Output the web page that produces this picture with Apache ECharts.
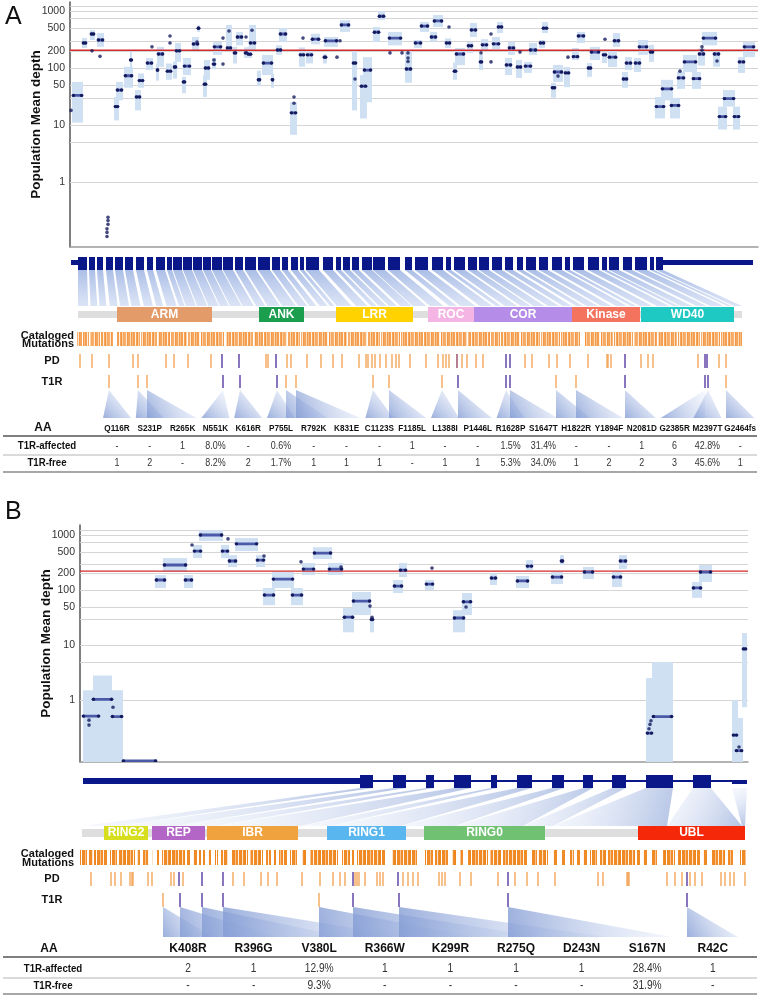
<!DOCTYPE html>
<html>
<head>
<meta charset="utf-8">
<script src="https://cdn.jsdelivr.net/npm/echarts@6/dist/echarts.min.js"></script>
<style>
  html, body { margin: 0; padding: 0; background: #fff; }
  #chart { width: 762px; height: 995px; }
</style>
</head>
<body>
<div id="chart"></div>
<script>
const FONT = '"Liberation Sans", Arial, Helvetica, sans-serif';
const lg = v => Math.log10(v);

// ---------- shared depth axis ----------
const GRID_VALUES = [1250, 1000, 750, 500, 300, 200, 100, 50, 30, 10, 5, 1];
const GRID_LABELED = [1000, 500, 200, 100, 50, 10, 1];

// ---------- panel A (LRRK2) ----------
// depth bins: [start, end, band high, band low, mean]
const A_BINS = [
  [2,13,57,11,33],[12,17,335,225,275],[20,25,460,310,395],[27,34,410,235,310],[44,49,31,12,21],
  [46,53,57,27,41],[54,63,105,45,73],[60,62,200,80,138],[65,71,41,18,31],[68,74,80,45,60],
  [76,83,150,92,122],[86,89,120,60,92],[87,94,235,105,176],[96,102,120,62,88],[103,107,130,65,104],
  [105,111,275,128,200],[112,116,70,36,57],[113,121,150,75,108],[122,129,350,207,264],[127,130,560,430,500],
  [133,137,75,31,52],[134,140,138,62,100],[142,146,150,95,117],[143,152,285,170,235],[156,162,570,207,225],
  [163,167,235,120,184],[166,173,430,250,350],[174,178,230,150,184],[177,182,235,150,175],[179,186,570,207,275],
  [187,191,90,48,62],[192,203,170,75,122],[201,204,80,45,62],[206,212,250,170,207],[209,217,500,285,395],
  [220,227,25,6.7,16.3],[229,235,230,105,170],[236,243,200,120,170],[241,250,400,260,320],[253,257,175,120,155],
  [254,268,350,235,300],[270,280,690,430,570],[282,287,207,18,122],[290,297,75,13,48],[293,302,155,25,92],
  [303,310,525,285,425],[308,315,1000,700,810],[318,332,430,250,335],[335,342,207,55,96],[344,352,310,225,275],
  [350,359,640,430,545],[360,367,430,290,350],[363,373,850,525,670],[375,381,330,225,275],[383,387,125,62,88],
  [385,395,225,112,176],[397,403,285,184,245],[400,407,615,350,465],[409,413,170,92,128],[411,418,320,207,255],
  [422,430,350,215,265],[427,433,640,410,525],[435,442,150,75,113],[438,445,285,170,225],[446,452,138,67,104],
  [454,462,128,82,108],[459,467,275,170,207],[469,475,310,225,275],[472,478,640,410,500],[481,486,55,30,45],
  [483,493,113,57,85],[494,500,104,46,82],[502,509,225,138,158],[507,515,430,275,365],[517,522,122,70,100],
  [520,530,235,138,190],[532,537,190,122,170],[538,547,207,104,155],[543,550,410,235,300],[552,558,85,45,64],
  [555,562,155,92,122],[564,571,150,85,122],[568,578,310,170,235],[579,584,255,128,190],[585,595,31,13,21],
  [591,603,62,27,43],[600,610,30,13,22],[607,615,85,43,67],[613,627,170,85,128],[622,631,85,43,65],
  [628,635,220,110,176],[632,647,430,250,335],[643,650,190,105,176],[648,657,21,8.3,14],[653,665,41,21,29],
  [663,670,21,8.3,14],[668,675,155,82,128],[673,685,285,155,235]
];
const A_DOTS = [
  [1,18],[22,200],[30,160],[38,0.24],[38,0.21],[38,0.18],[37,0.15],[37,0.13],[37,0.11],[82,235],
  [100,365],[100,275],[127,285],[144,138],[153,117],[153,335],[159,445],[176,350],[182,460],[224,24],
  [224,31],[233,335],[267,155],[270,300],[285,64],[320,184],[332,184],[338,184],[338,150],[338,130],
  [379,525],[411,184],[421,395],[421,128],[450,190],[488,72],[498,155],[535,320],[610,88],[632,235],
  [632,205],[647,133]
];
const A_RED = 205;
const A_EXONS = [
  [8,17],[19,25],[27,33],[36,43],[45,53],[55,63],[66,74],[77,83],[86,95],[97,102],[103,112],[113,122],
  [123,132],[133,141],[142,152],[153,163],[165,173],[175,186],[188,200],[202,210],[212,218],[221,228],
  [230,234],[236,249],[253,263],[266,271],[273,280],[282,289],[292,302],[303,315],[318,330],[335,342],
  [345,358],[362,373],[376,381],[384,395],[398,407],[409,419],[422,432],[435,443],[447,453],[456,466],
  [469,478],[482,492],[495,500],[503,514],[518,529],[532,537],[539,549],[553,562],[565,577],[580,584],[586,593]
];
const A_UTR = [[1,8],[593,683]];
const A_PROT_RANGE = [8, 672];
const A_DOMAINS = [
  ['ARM',47,142,'#e29b69'],['ANK',189,234,'#1b9e4e'],['LRR',266,343,'#ffd200'],['ROC',358,404,'#f5b5e4'],
  ['COR',404,502,'#b58ce8'],['Kinase',502,570,'#f4735f'],['WD40',571,664,'#1fc9c3']
];
const A_CAT = [
  [7,12],[13,19],[20,30],[31,43],[47,70],[71,87],[88,100],[101,117],[118,130],[131,154],[156,183],[184,193],
  [194,217],[218,230],[231,258],[259,277],[278,297],[298,310],[311,330],[331,353],[354,370],[371,397],[398,420],
  [421,430],[431,450],[451,470],[471,490],[491,510],[515,530],[531,543],[544,563],[564,587],[588,607],[608,630],
  [631,650],[651,672]
];
// [position, kind] kind 0 orange, 1 purple, 2 both
const A_PD = [
  [10,0],[22,0],[39,0],[63,0],[68,0],[96,0],[104,0],[118,0],[141,0],[152,1],[169,1],[196,0],[198,0],[206,1],
  [217,0],[221,0],[237,0],[251,0],[263,0],[272,0],[289,0],[296,0],[298,0],[302,0],[305,0],[310,0],[316,0],
  [322,0],[326,0],[329,0],[340,0],[356,0],[368,0],[373,0],[376,0],[379,0],[387,2],[392,0],[397,0],[406,0],
  [413,0],[436,1],[440,1],[455,0],[462,0],[479,0],[487,0],[500,0],[518,0],[537,0],[538,0],[541,0],[555,1],
  [571,0],[578,0],[583,0],[628,0],[635,1],[637,1],[649,0],[656,0]
];
const A_T1R = [
  [39,0],[68,0],[77,0],[153,1],[170,1],[207,1],[216,0],[226,0],[303,0],[319,0],[372,0],[388,1],[436,1],
  [440,1],[486,0],[506,0],[555,1],[635,1],[638,1],[656,0]
];
const A_AA = ['Q116R','S231P','R265K','N551K','K616R','P755L','R792K','K831E','C1123S','F1185L',
  'L1388I','P1446L','R1628P','S1647T','H1822R','Y1894F','N2081D','G2385R','M2397T','G2464fs'];
const A_AFFECTED = ['-','-','1','8.0%','-','0.6%','-','-','-','1','-','-','1.5%','31.4%','-','-','1','6','42.8%','-'];
const A_FREE = ['1','2','-','8.2%','2','1.7%','1','1','1','-','1','1','5.3%','34.0%','1','2','2','3','45.6%','1'];

// ---------- panel B (PRKN) ----------
const B_BINS = [
  [3,43,1.5,0.07,null],[13,32,2.8,0.07,null],[2,20,null,null,0.51],[12,33,null,null,1.03],[31,43,null,null,0.5],
  [42,77,null,null,0.078],[75,86,187,109,152],[83,107,380,213,285],[104,113,187,109,152],[113,122,660,380,510],
  [119,143,1230,780,1000],[141,149,660,380,510],[148,157,430,262,337],[155,178,880,510,690],[176,185,430,262,350],
  [183,195,109,53,81],[192,214,213,109,158],[211,223,109,53,81],[222,235,310,187,240],[233,252,600,365,470],
  [248,263,310,187,240],[263,274,47,17,32],[272,291,92,35,63],[290,294,30,17,29],[313,323,152,88,118],
  [319,327,310,172,230],[345,354,152,100,128],[373,385,43,17,31],[382,392,88,35,61],[410,417,204,123,165],
  [436,449,180,109,146],[446,453,350,230,272],[471,483,213,128,172],[480,484,430,285,337],[503,514,262,158,212],
  [532,542,213,113,172],[539,547,430,240,337],[566,573,2.5,0.07,0.25],[572,593,4.9,0.07,0.5],[612,622,140,72,109],
  [619,632,285,140,212],[652,658,1,0.07,0.23],[655,663,0.47,0.07,0.12],[662,667,16.5,0.74,8.5]
];
const B_DOTS = [
  [9,0.43],[9,0.35],[33,0.74],[112,660],[148,850],[184,415],[221,325],[261,262],[290,51],[292,32],
  [352,250],[386,49],[569,0.3],[570,0.36],[571,0.42],[659,0.14]
];
const B_RED = 220;
const B_UTR = [[3,280]];
const B_EXONS = [[280,293],[313,326],[346,354],[374,391],[411,417],[437,452],[472,484],[503,513],[532,546],[566,593],[613,631]];
const B_LAST = [[652,667]];
const B_PROT = [3,38,95,135,220,250,320,375,443,473,587,662,665,665];
const B_DOMAINS = [
  ['RING2',24,68,'#d6de1e'],['REP',72,125,'#b366c6'],['IBR',127,218,'#f0a23e'],
  ['RING1',247,326,'#5ab6ee'],['RING0',344,465,'#70c172'],['UBL',558,665,'#f5280a']
];
const B_CAT = [
  [0,7],[9,13],[14,27],[30,37],[39,55],[57,60],[63,69],[72,73],[77,79],[82,105],[107,110],[113,117],[119,121],
  [123,125],[128,131],[135,138],[141,148],[152,168],[170,183],[186,191],[194,197],[199,207],[210,217],[222,227],
  [230,258],[262,270],[272,274],[277,305],[312,337],[345,353],[355,368],[372,377],[380,383],[388,408],[410,422],
  [423,447],[452,457],[458,468],[473,477],[482,485],[490,494],[497,500],[503,507],[510,517],[520,527],[528,555],
  [557,560],[563,567],[571,577],[583,595],[598,620],[623,627],[632,645],[648,653],[660,666]
];
const B_PD = [
  [11,0],[31,0],[35,0],[41,0],[50,0],[52,0],[53,0],[68,0],[72,0],[91,0],[94,0],[99,1],[103,0],[122,1],[143,1],
  [153,0],[164,0],[181,0],[188,0],[197,0],[222,0],[240,0],[253,0],[260,0],[265,0],[273,1],[275,0],[277,0],[279,0],
  [285,0],[297,0],[300,0],[303,0],[318,1],[323,0],[328,0],[333,0],[338,0],[359,0],[362,0],[365,0],[380,0],[391,0],
  [418,0],[428,1],[435,0],[447,0],[458,0],[475,0],[518,0],[523,0],[547,0],[548,0],[549,0],[587,0],[595,0],[602,0],
  [607,1],[610,0],[615,0],[622,0],[641,0],[645,0],[650,0],[654,0],[665,0]
];
const B_T1R = [[83,0],[100,1],[122,1],[143,1],[239,0],[273,1],[319,1],[428,1],[607,1]];
const B_AA = ['K408R','R396G','V380L','R366W','K299R','R275Q','D243N','S167N','R42C'];
const B_AFFECTED = ['2','1','12.9%','1','1','1','1','28.4%','1'];
const B_FREE = ['-','-','9.3%','-','-','-','-','31.9%','-'];

// ---------- layout ----------
const PA = { left: 70, top: 2, w: 688, h: 245, lowTop: 250, lowH: 225, yMin: 0.072, yMax: 1440 };
const PB = { left: 80, top: 525, w: 668, h: 237, lowTop: 765, lowH: 230, yMin: 0.0746, yMax: 1520 };
const RA = { exon: [7, 20], utr: [10, 15], fan: [20, 56], dom: [57, 72], bar: [61, 68], cat: [82, 96],
  pd: [104, 118], t1r: [125, 138], tri: [140, 168], aa: 178, l1: 186, aff: 196, l2: 205, free: 213, l3: 222,
  colX0: 47, colStep: 32.8, triHW: 14, rowX: -23, lineX: [-67, 687], labX: -18, catX: 4 };
const RB = { exon: [10, 23], utr: [13, 19], fan: [23, 61], dom: [61, 75], bar: [64, 72], cat: [85, 100],
  pd: [107, 121], t1r: [128, 142], tri: [142, 172], aa: 184, l1: 192, aff: 204, l2: 213, free: 221, l3: 229,
  colX0: 108, colStep: 65.6, triHW: 25, rowX: -27, lineX: [-77, 677], labX: -28, catX: -6 };

const TICK_COLORS = ['#f2a04e', '#4a2c9c', '#8d3a52'];
const EXON_COLOR = '#0a1789';

// striped fill so the mutation bands read as many thin lines
function stripes(spec) {
  const c = document.createElement('canvas');
  c.width = spec.reduce((a, s) => a + s[0], 0);
  c.height = 4;
  const ctx = c.getContext('2d');
  let x = 0;
  spec.forEach(s => { ctx.fillStyle = s[1]; ctx.fillRect(x, 0, s[0], 4); x += s[0]; });
  return { image: c, repeat: 'repeat' };
}
const CAT_FILL_A = stripes([[2,'#f6a65c'],[1,'#fcdcbb'],[1,'#f39a4a'],[1,'#f8bb80'],[2,'#f49e52'],[1,'#fff1e2'],
  [1,'#f5a357'],[1,'#f29444'],[1,'#fbd1a6'],[2,'#f6aa64'],[1,'#f7b273'],[1,'#fde8d2'],[1,'#f39a4a']]);
const CAT_FILL_B = stripes([[2,'#ef8a24'],[1,'#fbe2c8'],[1,'#f1902e'],[2,'#ee8620'],[1,'#ffffff'],[3,'#f08a24'],
  [1,'#f8c390'],[2,'#f18c28'],[1,'#fff6ee'],[1,'#ef8a24']]);

// ---------- helpers ----------
function mk(ax, list, renderItem, z, clip) {
  return { type: 'custom', xAxisIndex: ax, yAxisIndex: ax, data: list.map((d, i) => [i, 0]),
    renderItem, z: z || 2, silent: true, clip: !!clip, animation: false };
}
function rectSeries(ax, list, y0, y1, fill, z) {
  return mk(ax, list, (p, api) => {
    const d = list[p.dataIndex];
    const a = api.coord([d[0], y0]), b = api.coord([d[1], y1]);
    return { type: 'rect', shape: { x: a[0], y: a[1], width: b[0] - a[0], height: b[1] - a[1] },
      style: { fill: typeof fill === 'function' ? fill(d) : fill } };
  }, z);
}
function tickSeries(ax, list, y0, y1) {
  return mk(ax, list, (p, api) => {
    const d = list[p.dataIndex];
    const a = api.coord([d[0], y0]), b = api.coord([d[0], y1]);
    return { type: 'line', shape: { x1: a[0], y1: a[1], x2: b[0], y2: b[1] },
      style: { stroke: TICK_COLORS[d[1]], lineWidth: 1.3 } };
  }, 3);
}
function textSeries(ax, items) {
  return mk(ax, items, (p, api) => {
    const it = items[p.dataIndex];
    const q = api.coord([it.x, it.y]);
    return { type: 'text', x: q[0], y: q[1], scaleX: it.sx || 1,
      style: { text: it.t, font: it.f, fill: it.c || '#111', align: it.a || 'center', verticalAlign: 'middle' } };
  }, 6);
}
function hLineSeries(ax, items) {
  return mk(ax, items, (p, api) => {
    const it = items[p.dataIndex];
    const a = api.coord([it.x0, it.y]), b = api.coord([it.x1, it.y]);
    return { type: 'line', shape: { x1: a[0], y1: a[1], x2: b[0], y2: b[1] },
      style: { stroke: it.c, lineWidth: it.w } };
  }, 5);
}
const grad = (x1, y1, x2, y2, c0, c1) =>
  new echarts.graphic.LinearGradient(x1, y1, x2, y2, [{ offset: 0, color: c0 }, { offset: 1, color: c1 }]);

function depthSeries(ax, bins, dots, red) {
  return [
    mk(ax, GRID_VALUES, (p, api) => {
      const v = GRID_VALUES[p.dataIndex];
      const cs = p.coordSys;
      const y = Math.round(api.coord([0, lg(v)])[1]) + 0.5;
      const ch = [{ type: 'line', shape: { x1: cs.x, y1: y, x2: cs.x + cs.width, y2: y },
        style: { stroke: '#d5d5d5', lineWidth: 1 } }];
      if (GRID_LABELED.includes(v)) {
        ch.push({ type: 'text', x: cs.x - 5, y: y,
          style: { text: String(v), align: 'right', verticalAlign: 'middle', font: '10.5px ' + FONT, fill: '#333' } });
      }
      return { type: 'group', children: ch };
    }, 1),
    mk(ax, bins, (p, api) => {
      const b = bins[p.dataIndex];
      if (b[2] == null) return null;
      const a = api.coord([b[0], lg(b[2])]), c = api.coord([b[1], lg(b[3])]);
      return { type: 'rect', shape: { x: a[0], y: a[1], width: c[0] - a[0], height: c[1] - a[1] },
        style: { fill: '#cfe0f3' } };
    }, 2, true),
    mk(ax, [red], (p, api) => {
      const cs = p.coordSys;
      const y = api.coord([0, lg(red)])[1];
      return { type: 'line', shape: { x1: cs.x, y1: y, x2: cs.x + cs.width, y2: y },
        style: { stroke: '#d42a2a', lineWidth: 1.3 } };
    }, 3),
    mk(ax, bins, (p, api) => {
      const b = bins[p.dataIndex];
      if (b[4] == null) return null;
      const a = api.coord([b[0], lg(b[4])]), c = api.coord([b[1], lg(b[4])]);
      return { type: 'group', children: [
        { type: 'line', shape: { x1: a[0] + 1, y1: a[1], x2: c[0] - 1, y2: c[1] },
          style: { stroke: '#4b5aa8', lineWidth: 2.8, lineCap: 'round' } },
        { type: 'circle', shape: { cx: a[0] + 1.5, cy: a[1], r: 1.7 }, style: { fill: '#141a5c' } },
        { type: 'circle', shape: { cx: c[0] - 1.5, cy: c[1], r: 1.7 }, style: { fill: '#141a5c' } }
      ] };
    }, 4, true),
    { type: 'scatter', xAxisIndex: ax, yAxisIndex: ax, data: dots.map(d => [d[0], lg(d[1])]),
      symbolSize: 3.6, itemStyle: { color: '#141a5c' }, z: 5, silent: true, animation: false }
  ];
}

function lowerSeries(ax, R, d) {
  const s = [];
  // exon track
  s.push(rectSeries(ax, d.utr, R.utr[0], R.utr[1], EXON_COLOR, 4));
  if (d.intron) s.push(rectSeries(ax, d.intron, 15, 17, EXON_COLOR, 4));
  s.push(rectSeries(ax, d.exons, R.exon[0], R.exon[1], EXON_COLOR, 4));
  if (d.last) s.push(rectSeries(ax, d.last, 15, 19, EXON_COLOR, 4));
  // fans from each exon to its stretch of protein
  s.push(mk(ax, d.fanExons, (p, api) => {
    const i = p.dataIndex, e = d.fanExons[i], pr = d.protOf(i);
    const pts = [api.coord([e[0], R.fan[0]]), api.coord([e[1], R.fan[0]]),
      api.coord([pr[1], R.fan[1]]), api.coord([pr[0], R.fan[1]])];
    return { type: 'polygon', shape: { points: pts }, style: { fill: d.fanFill() } };
  }, 1));
  // domains
  s.push(rectSeries(ax, [d.protRange], R.bar[0], R.bar[1], '#dedede', 2));
  s.push(rectSeries(ax, d.domains.map(x => [x[1], x[2], x[3]]), R.dom[0], R.dom[1], x => x[2], 3));
  // mutations
  s.push(rectSeries(ax, d.cat, R.cat[0], R.cat[1], d.catColor, 3));
  s.push(tickSeries(ax, d.pd, R.pd[0], R.pd[1]));
  s.push(tickSeries(ax, d.t1r, R.t1r[0], R.t1r[1]));
  // connectors to table columns
  const cols = d.aa.map((_, i) => R.colX0 + i * R.colStep);
  s.push(mk(ax, d.t1r, (p, api) => {
    const tx = d.t1r[p.dataIndex][0], c = cols[p.dataIndex];
    const l = Math.min(tx, c - R.triHW), r = Math.max(tx, c + R.triHW);
    return { type: 'polygon', shape: { points: [api.coord([tx, R.tri[0]]), api.coord([r, R.tri[1]]), api.coord([l, R.tri[1]])] },
      style: { fill: grad(0, 1, 1, 0, 'rgba(130,155,212,0.8)', 'rgba(222,230,247,0.3)') } };
  }, 1));
  // texts
  const T = [];
  d.domains.forEach(x => T.push({ x: (x[1] + x[2]) / 2, y: (R.dom[0] + R.dom[1]) / 2, t: x[0],
    f: 'bold 12px ' + FONT, c: '#fff' }));
  T.push({ x: R.catX, y: R.cat[0] + 3.5, t: 'Cataloged', f: 'bold 11px ' + FONT, a: 'right' });
  T.push({ x: R.catX, y: R.cat[1] - 2.5, t: 'Mutations', f: 'bold 11px ' + FONT, a: 'right' });
  T.push({ x: R.labX, y: (R.pd[0] + R.pd[1]) / 2, t: 'PD', f: 'bold 11px ' + FONT });
  T.push({ x: R.labX, y: (R.t1r[0] + R.t1r[1]) / 2, t: 'T1R', f: 'bold 11px ' + FONT });
  T.push({ x: R.rowX - 4, y: R.aa, t: 'AA', f: 'bold 12px ' + FONT });
  T.push({ x: R.rowX, y: R.aff, t: 'T1R-affected', f: 'bold 10.5px ' + FONT, sx: 0.92 });
  T.push({ x: R.rowX, y: R.free, t: 'T1R-free', f: 'bold 10.5px ' + FONT, sx: 0.92 });
  d.aa.forEach((t, i) => {
    T.push({ x: cols[i], y: R.aa, t, f: d.aaFont, sx: d.aaSx });
    T.push({ x: cols[i], y: R.aff, t: d.affected[i], f: d.valFont, sx: 0.85, c: '#333' });
    T.push({ x: cols[i], y: R.free, t: d.free[i], f: d.valFont, sx: 0.85, c: '#333' });
  });
  s.push(textSeries(ax, T));
  s.push(hLineSeries(ax, [
    { x0: R.lineX[0], x1: R.lineX[1], y: R.l1, c: '#555', w: 1.4 },
    { x0: R.lineX[0], x1: R.lineX[1], y: R.l2, c: '#b5b5b5', w: 1 },
    { x0: R.lineX[0], x1: R.lineX[1], y: R.l3, c: '#8a8a8a', w: 1.4 }
  ]));
  return s;
}

// panel A: exon positions stretched linearly onto the protein bar
const A_EXON_SPAN = [A_EXONS[0][0], A_EXONS[A_EXONS.length - 1][1]];
const aProt = x => A_PROT_RANGE[0] + (x - A_EXON_SPAN[0]) / (A_EXON_SPAN[1] - A_EXON_SPAN[0]) * (A_PROT_RANGE[1] - A_PROT_RANGE[0]);

const chart = echarts.init(document.getElementById('chart'), null, { renderer: 'canvas' });

const hiddenX = (gi, max) => ({ gridIndex: gi, type: 'value', min: 0, max, show: false });
const depthX = (gi, max) => ({ gridIndex: gi, type: 'value', min: 0, max,
  axisLine: { show: true, onZero: false, lineStyle: { color: '#9a9a9a', width: 1.5 } },
  axisTick: { show: false }, axisLabel: { show: false }, splitLine: { show: false } });
const depthY = (gi, P) => ({ gridIndex: gi, type: 'value', min: lg(P.yMin), max: lg(P.yMax),
  axisLine: { show: true, onZero: false, lineStyle: { color: '#555', width: 1.5 } },
  axisTick: { show: false }, axisLabel: { show: false }, splitLine: { show: false },
  name: 'Population Mean depth', nameLocation: 'middle', nameGap: 27, nameRotate: 90,
  nameTextStyle: { fontSize: 13.5, fontWeight: 'bold', color: '#111', fontFamily: FONT } });

chart.setOption({
  backgroundColor: '#fff',
  animation: false,
  grid: [
    { left: PA.left, top: PA.top, width: PA.w, height: PA.h },
    { left: PA.left, top: PA.lowTop, width: PA.w, height: PA.lowH },
    { left: PB.left, top: PB.top, width: PB.w, height: PB.h },
    { left: PB.left, top: PB.lowTop, width: PB.w, height: PB.lowH }
  ],
  xAxis: [depthX(0, PA.w), hiddenX(1, PA.w), depthX(2, PB.w), hiddenX(3, PB.w)],
  yAxis: [
    depthY(0, PA),
    { gridIndex: 1, type: 'value', min: 0, max: PA.lowH, inverse: true, show: false },
    depthY(2, PB),
    { gridIndex: 3, type: 'value', min: 0, max: PB.lowH, inverse: true, show: false }
  ],
  graphic: [
    { type: 'text', left: 5, top: 5, style: { text: 'A', font: '25px ' + FONT, fill: '#111' } },
    { type: 'text', left: 5, top: 500, style: { text: 'B', font: '25px ' + FONT, fill: '#111' } }
  ],
  series: [
    ...depthSeries(0, A_BINS, A_DOTS, A_RED),
    ...lowerSeries(1, RA, {
      utr: A_UTR, exons: A_EXONS, fanExons: A_EXONS, protRange: A_PROT_RANGE,
      protOf: i => [aProt(A_EXONS[i][0]), aProt(A_EXONS[i][1])],
      fanFill: () => grad(0, 0, 0, 1, 'rgba(150,174,224,0.8)', 'rgba(196,210,240,0.6)'),
      domains: A_DOMAINS, cat: A_CAT, catColor: CAT_FILL_A, pd: A_PD, t1r: A_T1R,
      aa: A_AA, affected: A_AFFECTED, free: A_FREE,
      aaFont: 'bold 9.5px ' + FONT, aaSx: 0.86, valFont: '10.5px ' + FONT
    }),
    ...depthSeries(2, B_BINS, B_DOTS, B_RED),
    ...lowerSeries(3, RB, {
      utr: B_UTR, intron: [[B_EXONS[0][1], B_LAST[0][0]]], exons: B_EXONS, last: B_LAST,
      fanExons: B_EXONS.concat(B_LAST), protRange: [2, 665],
      protOf: i => [B_PROT[i], B_PROT[i + 1]],
      fanFill: () => grad(0, 0, 1, 1, 'rgba(215,225,245,0.2)', 'rgba(130,156,212,0.6)'),
      domains: B_DOMAINS, cat: B_CAT, catColor: CAT_FILL_B, pd: B_PD, t1r: B_T1R,
      aa: B_AA, affected: B_AFFECTED, free: B_FREE,
      aaFont: 'bold 12px ' + FONT, aaSx: 1, valFont: '12px ' + FONT
    })
  ]
});
</script>
</body>
</html>
